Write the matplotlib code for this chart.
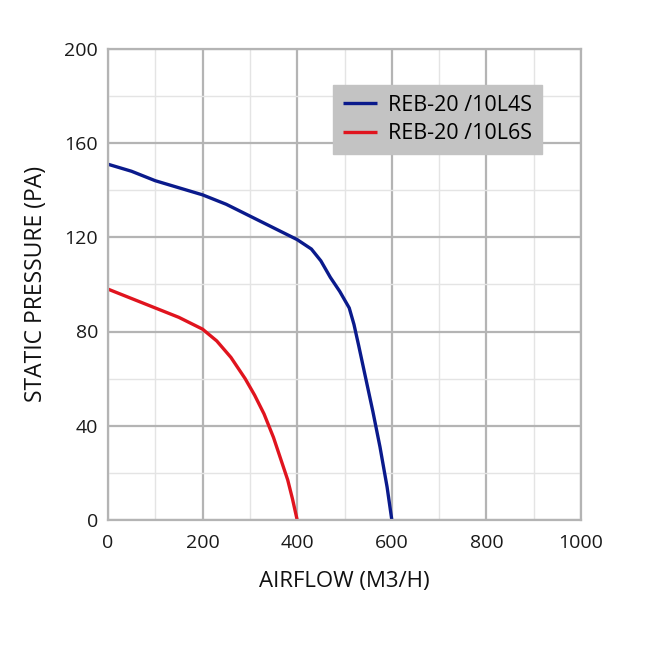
import matplotlib.pyplot as plt
from matplotlib.ticker import MultipleLocator

plt.rcParams['font.family'] = ['Open Sans', 'DejaVu Sans']

# curve points
flow_l4s = [0, 50, 100, 150, 200, 250, 300, 350, 400, 430, 450, 470, 490, 510, 520, 530, 545, 560, 575, 590, 600]
pres_l4s = [151, 148, 144, 141, 138, 134, 129, 124, 119, 115, 110, 103, 97, 90, 83, 74, 60, 46, 31, 14, 0]
flow_l6s = [0, 50, 100, 150, 200, 230, 260, 290, 310, 330, 350, 365, 380, 390, 400]
pres_l6s = [98, 94, 90, 86, 81, 76, 69, 60, 53, 45, 35, 26, 17, 9, 0]
labels = ['REB-20 /10L4S', 'REB-20 /10L6S']
colors = ['#0a1a8c', '#e0141e']

fig = plt.figure(figsize=(6.5, 6.5), dpi=100)
ax = fig.add_axes([0.166, 0.2, 0.728, 0.725])

ax.plot(flow_l4s, pres_l4s, color=colors[0], lw=2.4, label=labels[0], solid_capstyle='butt')
ax.plot(flow_l6s, pres_l6s, color=colors[1], lw=2.4, label=labels[1], solid_capstyle='butt')

ax.set_xlim(0, 1000)
ax.set_ylim(0, 200)
ax.xaxis.set_major_locator(MultipleLocator(200))
ax.yaxis.set_major_locator(MultipleLocator(40))
ax.xaxis.set_minor_locator(MultipleLocator(100))
ax.yaxis.set_minor_locator(MultipleLocator(20))
ax.grid(which='major', color='#b4b4b4', lw=1.6)
ax.grid(which='minor', color='#e4e4e4', lw=1.0)
ax.set_axisbelow(True)
for s in ax.spines.values():
    s.set_color('#b4b4b4')
    s.set_linewidth(1.6)
ax.tick_params(which='both', length=0, labelsize=14, colors='#1a1a1a')
ax.tick_params(axis='x', pad=10)
ax.tick_params(axis='y', pad=7)

ax.set_xlabel('AIRFLOW (M3/H)', fontsize=16, color='#111111', labelpad=14)
ax.set_ylabel('STATIC PRESSURE (PA)', fontsize=16.5, color='#111111', labelpad=12)

leg = ax.legend(loc='upper left', bbox_to_anchor=(0.476, 0.923), fontsize=15.5,
                frameon=True, fancybox=False, facecolor='#c3c3c3', edgecolor='#c3c3c3',
                framealpha=1, handlelength=1.6, handletextpad=0.5, borderpad=0.45,
                labelspacing=0.35, borderaxespad=0)

fig.savefig('out.png', dpi=100)
